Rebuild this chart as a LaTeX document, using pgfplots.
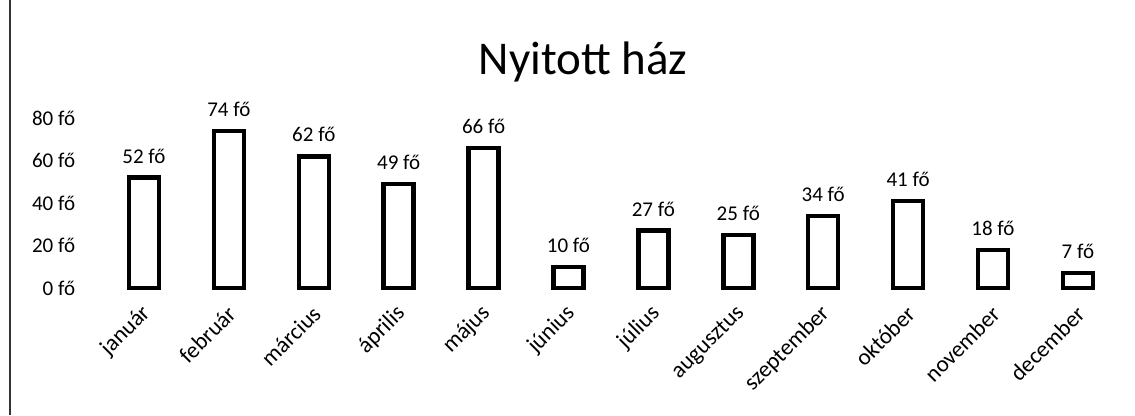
\documentclass[border=0pt]{standalone}
\usepackage{fontspec}
\setmainfont{Carlito}
\usepackage{pgfplots}
\pgfplotsset{compat=1.18}
\begin{document}
\begin{tikzpicture}
\useasboundingbox (0,0) rectangle (1135pt,415pt);
\draw[line width=1.3pt, black!80] (10pt,0) -- (10pt,415pt);
\begin{axis}[
  at={(80.3pt,127pt)}, anchor=south west,
  scale only axis, width=1048.5pt, height=180.6pt,
  xmin=-0.75, xmax=11.6, ymin=0, ymax=85,
  /pgf/number format/assume math mode=true,
  ybar, bar width=30pt,
  axis line style={draw=none}, major tick length=0pt,
  xtick=data, xticklabels={},
  ytick={0,20,40,60,80},
  yticklabels={0 fő,20 fő,40 fő,60 fő,80 fő},
  yticklabel style={anchor=east, inner sep=0pt, xshift=-5pt, font=\fontsize{21}{25}\selectfont},
  nodes near coords={\pgfmathprintnumber{\pgfplotspointmeta}~fő},
  nodes near coords style={anchor=south, inner sep=0pt, yshift=12pt, font=\fontsize{21}{25}\selectfont, text=black},
  clip=false,
]
\addplot[draw=black, fill=white, line width=4.5pt] coordinates {(0,52) (1,74) (2,62) (3,49) (4,66) (5,10) (6,27) (7,25) (8,34) (9,41) (10,18) (11,7)};
\pgfplotsforeachungrouped \i/\name in {0/január,1/február,2/március,3/április,4/május,5/június,6/július,7/augusztus,8/szeptember,9/október,10/november,11/december}{%
  \edef\temp{\noexpand\node[rotate=45, anchor=east, inner sep=0pt, font=\noexpand\fontsize{23}{27}\noexpand\selectfont] at ([xshift=3pt,yshift=-22pt]axis cs:\i,0) {\name};}%
  \temp
}
\end{axis}
\node[font=\fontsize{47}{56}\selectfont, anchor=base] at (583pt, 340pt) {Nyitott ház};
\end{tikzpicture}
\end{document}
